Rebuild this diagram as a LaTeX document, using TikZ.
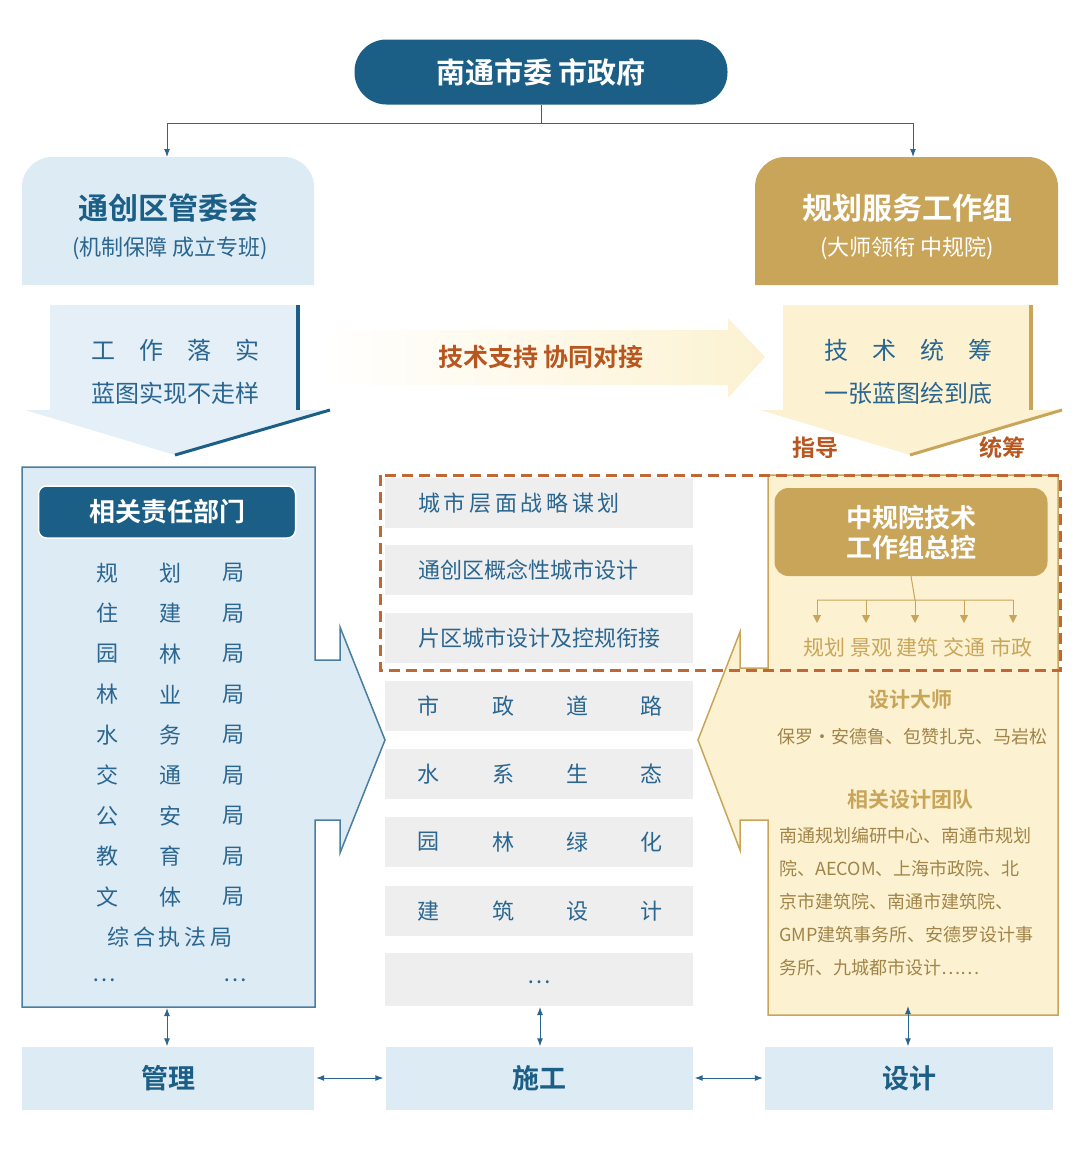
\documentclass[tikz,border=0pt]{standalone}
\usepackage{fontspec}
\setmainfont{Noto Sans CJK SC}
\newfontfamily\cjkb{Noto Sans CJK SC Bold}
\usetikzlibrary{arrows.meta}
\definecolor{dblue}{HTML}{1B5E86}
\definecolor{tblue}{HTML}{2A6690}
\definecolor{lblue}{HTML}{DDEBF5}
\definecolor{gold}{HTML}{C9A55A}
\definecolor{lgold}{HTML}{FCF2D2}
\definecolor{rust}{HTML}{B8561F}
\definecolor{lgrey}{HTML}{EEEEEE}
\newcommand{\fs}[1]{\fontsize{#1}{#1}\selectfont}
\tikzset{
  lbl/.style={inner sep=0pt, text=tblue, font=\fs{22}},
  boldlbl/.style={inner sep=0pt, font=\cjkb\fs{#1}},
  midbox/.style={fill=lgrey, minimum width=308pt, minimum height=50pt, inner sep=0pt},
  botbox/.style={fill=lblue, minimum height=63pt, inner sep=0pt, text=dblue, font=\cjkb\fs{27}},
  link/.style={draw=tblue, line width=1pt, -{Latex[length=8pt,width=6pt]}},
  dlink/.style={draw=tblue, line width=1pt, {Latex[length=8pt,width=6pt]}-{Latex[length=8pt,width=6pt]}},
  glink/.style={draw=gold, line width=1pt, -{Triangle[length=8pt,width=8pt]}},
}
\begin{document}
\begin{tikzpicture}[x=1pt,y=-1pt]
  \useasboundingbox (0,0) rectangle (1080,1157);

  % top
  \node[fill=dblue, rounded corners=32pt, minimum width=373pt, minimum height=65pt,
    text=white, font=\cjkb\fs{29}] (top) at (541,72) {南通市委 市政府};
  \coordinate (split) at (541,123);
  \coordinate (lturn) at (167,123);
  \coordinate (rturn) at (913,123);
  \draw[draw=tblue, line width=1pt] (top.south) -- (split) (lturn) -- (rturn);

  % headers
  \fill[lblue] (22,285) [rounded corners=30pt] -- (22,157) -- (314,157) [sharp corners] -- (314,285) -- cycle;
  \fill[gold] (755,285) [rounded corners=30pt] -- (755,157) -- (1058,157) [sharp corners] -- (1058,285) -- cycle;
  \node[boldlbl=30, text=dblue] (lhead) at (168,208) {通创区管委会};
  \node[lbl, font=\fs{22}] (lsub) at (170,248) {(机制保障 成立专班)};
  \node[boldlbl=30, text=white] (rhead) at (907,208) {规划服务工作组};
  \node[lbl, text=white, font=\fs{22}] (rsub) at (907,248) {(大师领衔 中规院)};
  \coordinate (lhtop) at (167,157);
  \coordinate (rhtop) at (913,157);
  \draw[link] (lturn) -- (lhtop);
  \draw[link] (rturn) -- (rhtop);

  % down arrows
  \fill[lblue!80!white] (50,305) -- (300,305) -- (300,410) -- (330,410) -- (175,455) -- (25,410) -- (50,410) -- cycle;
  \draw[dblue, line width=4pt] (298,305) -- (298,410);
  \draw[dblue, line width=3pt] (330,410) -- (175,455);
  \node[lbl, font=\fs{24}] (work) at (175,350) {工\quad 作\quad 落\quad 实};
  \node[lbl, font=\fs{24}] (wsub) at (175,393) {蓝图实现不走样};

  \fill[lgold] (783,305) -- (1033,305) -- (1033,410) -- (1062,410) -- (910,455) -- (760,410) -- (783,410) -- cycle;
  \draw[gold, line width=4pt] (1031,305) -- (1031,410);
  \draw[gold, line width=3pt] (1062,410) -- (910,455);
  \node[lbl, font=\fs{24}] (tech) at (908,350) {技\quad 术\quad 统\quad 筹};
  \node[lbl, font=\fs{24}] (tsub) at (908,393) {一张蓝图绘到底};
  \node[boldlbl=23, text=rust] (guide) at (815,448) {指导};
  \node[boldlbl=23, text=rust] (plan) at (1002,448) {统筹};

  % middle arrow
  \shade[left color=white, right color=lgold] (320,330) -- (728,330) -- (728,318) -- (765,357) -- (728,398) -- (728,385) -- (320,385) -- cycle;
  \node[boldlbl=25, text=rust] (support) at (541,357) {技术支持\ 协同对接};

  % left panel
  \filldraw[fill=lblue, draw=dblue!80, line width=1.5pt] (22,467) -- (315,467) -- (315,660) -- (340,660) -- (340,627) -- (385,740)
    -- (340,853) -- (340,820) -- (315,820) -- (315,1007) -- (22,1007) -- cycle;
  \node[fill=dblue, draw=white, line width=1.5pt, rounded corners=8pt, minimum width=257pt, minimum height=52pt,
    text=white, font=\cjkb\fs{26}] (dept) at (167,512) {相关责任部门};
  \foreach \a/\b [count=\i from 0] in {规/划, 住/建, 园/林, 林/业, 水/务, 交/通, 公/安, 教/育, 文/体} {
    \node[lbl] (da\i) at (107,573+40.5*\i) {\a};
    \node[lbl] (db\i) at (170,573+40.5*\i) {\b};
    \node[lbl] (dc\i) at (233,573+40.5*\i) {局};
  }
  \node[lbl] (dz) at (170,937) {综\,合\,执\,法\,局};
  \node[lbl] (de1) at (104,980) {…};
  \node[lbl] (de2) at (235,980) {…};

  % middle column
  \foreach \y/\t [count=\i] in {503/城\,市\,层\,面\,战\,略\,谋\,划, 570/通创区概念性城市设计, 638/片区城市设计及控规衔接} {
    \node[midbox] (m\i) at (539,\y) {};
    \node[lbl, anchor=west] (mt\i) at (418,\y) {\t};
  }
  \foreach \y/\a/\b/\c/\d [count=\i from 4] in {706/市/政/道/路, 774/水/系/生/态, 842/园/林/绿/化, 911/建/筑/设/计} {
    \node[midbox] (m\i) at (539,\y) {};
    \node[lbl] at (428,\y) {\a};
    \node[lbl] at (503,\y) {\b};
    \node[lbl] at (577,\y) {\c};
    \node[lbl] at (651,\y) {\d};
  }
  \node[midbox, minimum height=53pt] (m8) at (539,979) {};
  \node[lbl] at (539,982) {…};

  % right panel
  \filldraw[fill=lgold, draw=gold, line width=1.5pt] (768,475) -- (1058,475) -- (1058,1015) -- (768,1015) -- (768,820) -- (740,820)
    -- (740,850) -- (698,740) -- (740,632) -- (740,668) -- (768,668) -- cycle;
  \node[fill=gold, rounded corners=14pt, minimum width=273pt, minimum height=88pt, align=center,
    text=white, font=\cjkb\fs{26}] (cg) at (911,532) {中规院技术\\[4pt]工作组总控};
  \coordinate (cgb) at (915,600);
  \draw[gold, line width=1pt] (cg.south) -- (cgb) (817,600) -- (1013,600);
  \foreach \x in {817,866,915,964,1013} \draw[glink] (\x,600) -- (\x,623);
  \node[lbl, text=gold, font=\fs{21}] (disc) at (918,647) {规划 景观 建筑 交通 市政};
  \node[boldlbl=21, text=gold] (master) at (910,700) {设计大师};
  \node[lbl, text=gold!80!black, font=\fs{18}] (names) at (912,737) {保罗·安德鲁、包赞扎克、马岩松};
  \node[boldlbl=21, text=gold] (team) at (910,800) {相关设计团队};
  \foreach \t [count=\i from 0] in {南通规划编研中心、南通市规划, 院、AECOM、上海市政院、北, 京市建筑院、南通市建筑院、, GMP建筑事务所、安德罗设计事, 务所、九城都市设计……}
    \node[lbl, anchor=west, text=gold!80!black, font=\fs{18}] at (779,836+33*\i) {\t};

  % orange dashed frame
  \draw[rust!90, line width=3pt, dash pattern=on 11pt off 6pt] (380,475) rectangle (1060,670);

  % bottom
  \node[botbox, minimum width=292pt] (mgmt) at (168,1078) {管理};
  \node[botbox, minimum width=307pt] (cons) at (539,1078) {施工};
  \node[botbox, minimum width=288pt] (desn) at (909,1078) {设计};
  \coordinate (lpb) at (167,1008);
  \coordinate (mpb) at (540,1007);
  \coordinate (rpb) at (908,1006);
  \draw[dlink] (lpb) -- (lpb |- mgmt.north);
  \draw[dlink] (mpb) -- (mpb |- cons.north);
  \draw[dlink] (rpb) -- (rpb |- desn.north);
  \draw[dlink] ([xshift=2pt]mgmt.east) -- ([xshift=-2pt]cons.west);
  \draw[dlink] ([xshift=2pt]cons.east) -- ([xshift=-2pt]desn.west);
\end{tikzpicture}
\end{document}
